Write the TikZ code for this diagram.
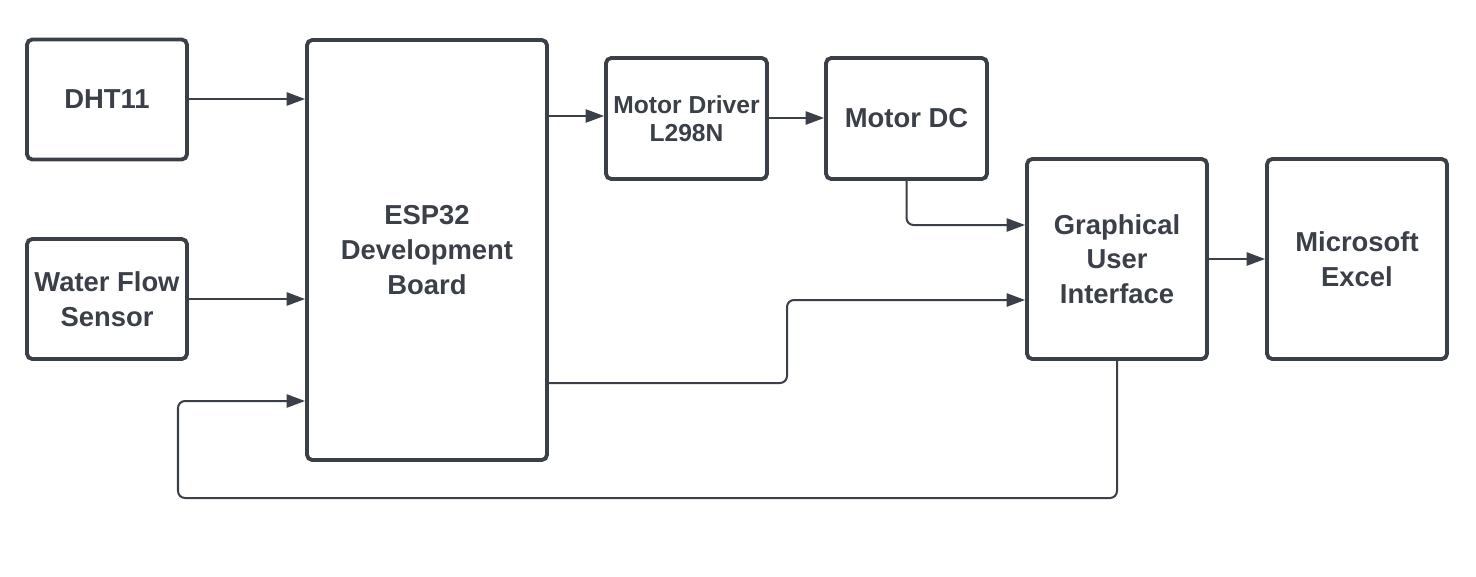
\documentclass[tikz,border=0pt]{standalone}
\usepackage{fontspec}
\setmainfont{Liberation Sans}
\usetikzlibrary{arrows.meta}
\definecolor{ink}{HTML}{3A3F48}

\begin{document}
\begin{tikzpicture}
[x=0.02cm,y=-0.02cm,
 blk/.style={draw=ink,line width=2.2pt,rounded corners=3pt,align=center,
   text=ink,font=\bfseries\fontsize{15.6}{19.8}\selectfont,inner sep=0pt},
 lnk/.style={draw=ink,line width=1.15pt,rounded corners=4pt,
   -{Triangle[length=10.5pt,width=7.5pt]}}]
\useasboundingbox (0,0) rectangle (1476,576);
\node[blk,minimum width=160*0.02cm,minimum height=120*0.02cm] (dht) at (107,99.5) {DHT11};
\node[blk,minimum width=160*0.02cm,minimum height=120*0.02cm] (wfs) at (107,299) {Water Flow\\Sensor};
\node[blk,minimum width=240*0.02cm,minimum height=420*0.02cm] (esp) at (427,250) {ESP32\\Development\\Board};
\node[blk,minimum width=161*0.02cm,minimum height=121*0.02cm,font=\bfseries\fontsize{14}{16}\selectfont] (drv) at (686.5,118.5) {Motor Driver\\L298N};
\node[blk,minimum width=161*0.02cm,minimum height=121*0.02cm] (mdc) at (906.5,118.5) {Motor DC};
\node[blk,minimum width=180*0.02cm,minimum height=200*0.02cm] (gui) at (1117,259) {Graphical\\User\\Interface};
\node[blk,minimum width=180*0.02cm,minimum height=200*0.02cm] (xls) at (1357,259) {Microsoft\\Excel};
\coordinate (c1) at (178,498);
\coordinate (c2) at (787,383);
\foreach \from/\to/\y in {dht/esp/99,wfs/esp/299,esp/drv/116,drv/mdc/118,gui/xls/259}
\draw[lnk] (\from.east |- 0,\y) -- (\to.west |- 0,\y);
\draw[lnk] (mdc.south) |- (gui.west |- 0,225);
\draw[lnk] (esp.east |- c2) -- (c2) |- (gui.west |- 0,300);
\draw[lnk] (gui.south) |- (c1) |- (esp.west |- 0,401);
\end{tikzpicture}
\end{document}
